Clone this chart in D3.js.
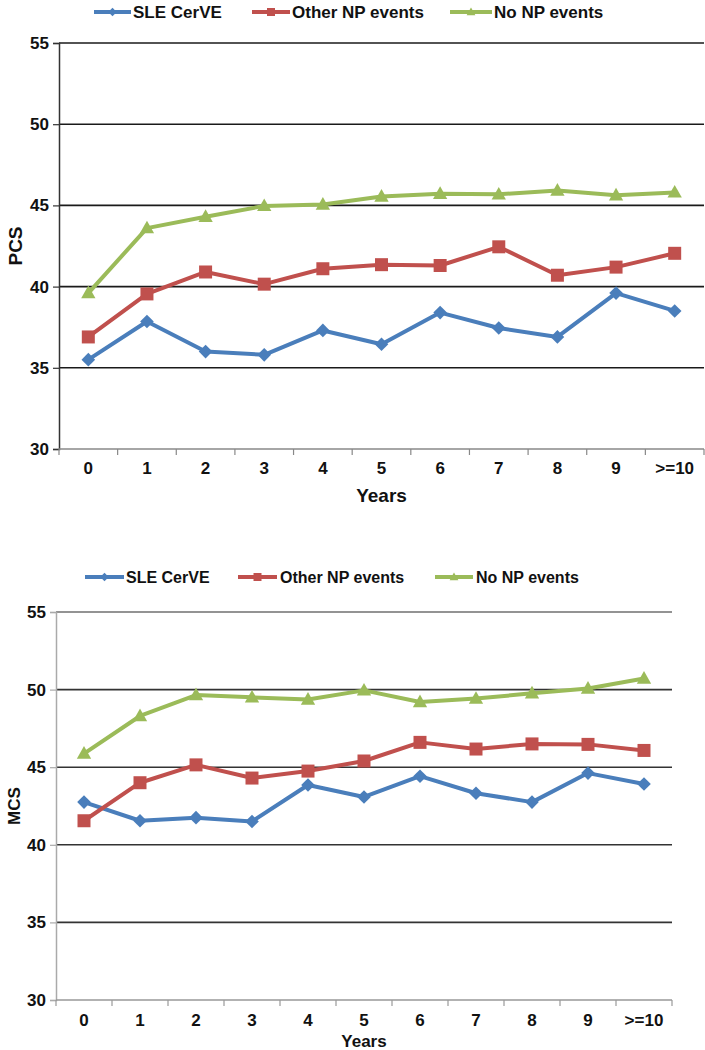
<!DOCTYPE html>
<html><head><meta charset="utf-8">
<script src="https://cdn.jsdelivr.net/npm/d3@7"></script>
<style>body{margin:0;background:#fff}svg{display:block}text{font-family:"Liberation Sans",Arial,sans-serif;font-weight:bold;fill:#111}</style>
</head><body>
<svg id="c" width="705" height="1050"></svg>
<script>
const years = ["0","1","2","3","4","5","6","7","8","9",">=10"];
const seriesNames = ["SLE CerVE","Other NP events","No NP events"];
const yTicks = [30,35,40,45,50,55];
const pcsSLE   = [35.5,37.85,36.0,35.8,37.3,36.45,38.4,37.45,36.9,39.6,38.5];
const pcsOther = [36.9,39.55,40.9,40.15,41.1,41.35,41.3,42.45,40.7,41.2,42.05];
const pcsNoNP  = [39.6,43.6,44.3,44.97,45.05,45.55,45.72,45.68,45.92,45.62,45.8];
const mcsSLE   = [42.75,41.55,41.75,41.5,43.85,43.08,44.42,43.32,42.75,44.62,43.92];
const mcsOther = [41.55,44.0,45.15,44.3,44.75,45.4,46.6,46.17,46.5,46.47,46.08];
const mcsNoNP  = [45.88,48.3,49.65,49.5,49.36,49.95,49.2,49.42,49.76,50.07,50.72];

const colors = ["#4A7EBB","#C0504D","#9BBB59"];
const svg = d3.select("#c");

function marker(g, i, x, y, r){
  let d;
  if(i===0) d = `M0,${-r*1.05}L${r*1.05},0L0,${r*1.05}L${-r*1.05},0Z`;
  else if(i===1) d = `M${-r},${-r}H${r}V${r}H${-r}Z`;
  else d = `M0,${-r*1.15}L${r*1.1},${r*0.8}L${-r*1.1},${r*0.8}Z`;
  g.append("path").attr("d", d).attr("transform", `translate(${x},${y})`)
   .attr("fill", colors[i]);
}

function drawChart(o){
  const g = svg.append("g");
  const x = d3.scaleBand().domain(years).range([o.x0, o.x1]);
  const y = d3.scaleLinear().domain([30,55]).range([o.y0, o.y1]);
  g.selectAll(".grid").data(yTicks.filter(t=>t>30)).enter().append("line")
    .attr("x1", o.x0).attr("x2", o.x1).attr("y1", d=>y(d)).attr("y2", d=>y(d))
    .attr("stroke", d=> d===55 ? o.topGrid : o.grid).attr("stroke-width", 1.6);
  const ya = g.append("g").attr("transform", `translate(${o.x0},0)`)
    .call(d3.axisLeft(y).tickValues(yTicks).tickSize(6).tickPadding(4).tickFormat(d3.format("d")));
  ya.select(".domain").attr("stroke", o.yAxis).attr("stroke-width", 1.5);
  ya.selectAll(".tick line").attr("stroke", o.yAxis).attr("stroke-width", 1.2);
  ya.selectAll("text").attr("font-size", 17).attr("fill", "#111").style("font-family","Liberation Sans, Arial").style("font-weight","bold");
  const xa = g.append("g").attr("transform", `translate(0,${o.y0})`);
  xa.append("line").attr("x1", o.x0).attr("x2", o.x1).attr("y1",0).attr("y2",0)
    .attr("stroke", o.xAxis).attr("stroke-width", 1.5);
  const bounds = years.map(d=>x(d)).concat([o.x1]);
  xa.selectAll(".tk").data(bounds).enter().append("line")
    .attr("x1", d=>d).attr("x2", d=>d).attr("y1",0).attr("y2",6)
    .attr("stroke", o.xAxis).attr("stroke-width", 1.2);
  xa.selectAll(".lb").data(years).enter().append("text")
    .attr("x", d=>x(d)+x.bandwidth()/2).attr("y", o.tickY - o.y0)
    .attr("text-anchor","middle").attr("font-size",17).text(d=>d);
  g.append("text").attr("x", (o.x0+o.x1)/2).attr("y", o.titleY).attr("text-anchor","middle")
    .attr("font-size", o.titleSize).text("Years");
  g.append("text").attr("transform", `translate(${o.ylabX},${o.ylabY}) rotate(-90)`)
    .attr("text-anchor","middle").attr("font-size", o.titleSize).text(o.ylab);
  const line = d3.line().x((d,i)=>x(years[i])+x.bandwidth()/2).y(d=>y(d));
  o.data.forEach((s,i)=>{
    g.append("path").attr("d", line(s)).attr("fill","none").attr("stroke", colors[i])
      .attr("stroke-width", 4).attr("stroke-linejoin","round");
  });
  o.data.forEach((s,i)=>{
    s.forEach((v,j)=> marker(g, i, x(years[j])+x.bandwidth()/2, y(v), 6.5));
  });
  const lg = svg.append("g");
  seriesNames.forEach((n,i)=>{
    const [a,b,t] = o.legend[i];
    lg.append("line").attr("x1",a).attr("x2",b).attr("y1",o.legY).attr("y2",o.legY)
      .attr("stroke", colors[i]).attr("stroke-width",4);
    marker(lg, i, (a+b)/2, o.legY, 4);
    lg.append("text").attr("x", t).attr("y", o.legY+6).attr("font-size", o.legSize).text(n);
  });
}

drawChart({x0:59, x1:704, y0:449, y1:43, data:[pcsSLE,pcsOther,pcsNoNP],
  grid:"#1a1a1a", topGrid:"#1a1a1a", yAxis:"#333", xAxis:"#888",
  tickY:474, titleY:502, titleSize:19, ylab:"PCS", ylabX:22, ylabY:246,
  legY:12, legSize:17, legend:[[94,131,133],[252,290,292],[450,492,494]]});

drawChart({x0:56, x1:672, y0:1000, y1:612, data:[mcsSLE,mcsOther,mcsNoNP],
  grid:"#333", topGrid:"#6f6f6f", yAxis:"#aaa", xAxis:"#999",
  tickY:1026, titleY:1047, titleSize:17, ylab:"MCS", ylabX:20, ylabY:806,
  legY:577, legSize:16, legend:[[85,124,126],[238,277,280],[435,473,476]]});
</script>
</body></html>
